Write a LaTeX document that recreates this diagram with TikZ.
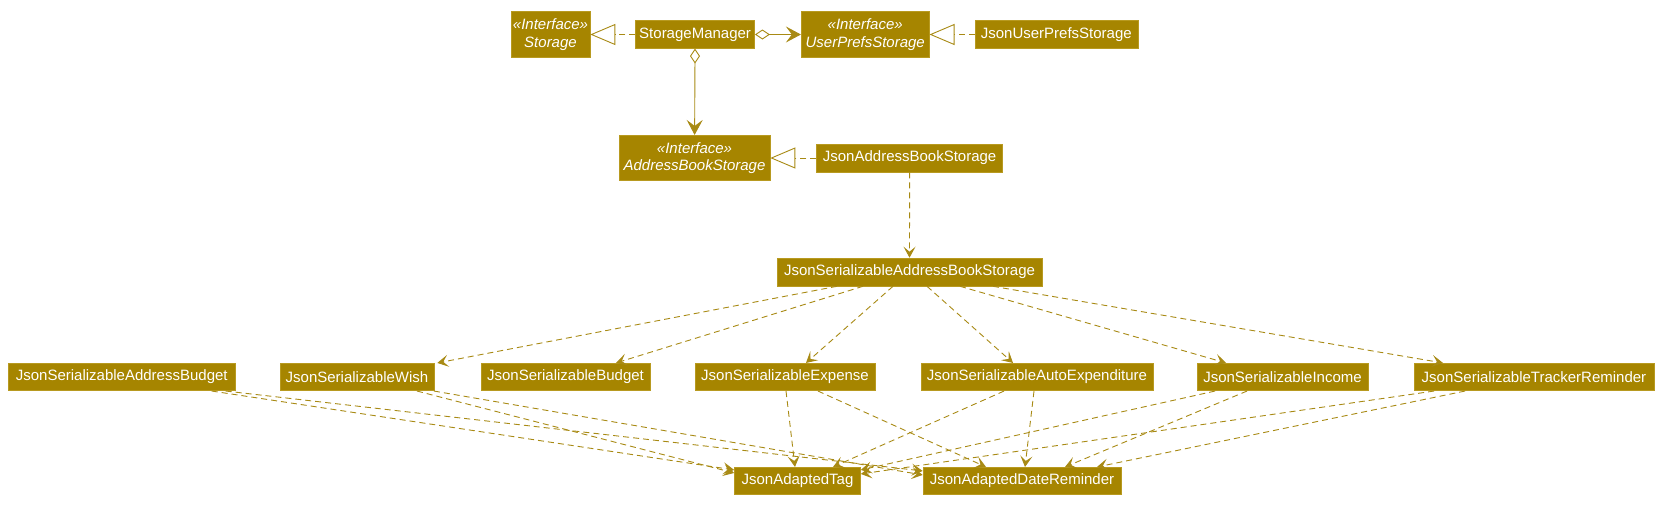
\documentclass[tikz,border=0pt]{standalone}
\usepackage{fontspec}
\setmainfont{Liberation Sans}
\usepackage{tikz}
\usetikzlibrary{arrows.meta, positioning, calc}
\definecolor{UmlGold}{HTML}{A68500}
\definecolor{UmlEdge}{HTML}{B89A20}
\definecolor{UmlLine}{HTML}{A88A14}

\begin{document}
\begin{tikzpicture}[x=1pt, y=-1pt, >={Stealth[length=11pt, width=12pt, inset=5pt]}, font=\fontsize{15}{17.5}\selectfont]
    \tikzstyle{cls} = [rectangle, draw=UmlEdge, line width=0.6pt, fill=UmlGold, text=white, minimum height=27.5pt, inner sep=1.5pt, align=center]
    \tikzstyle{iface} = [cls, minimum height=45.5pt, font=\fontsize{15}{17.5}\selectfont\itshape]
    \tikzstyle{line} = [draw, ->, UmlLine, line width=0.9pt]
    \tikzstyle{dep} = [line, dash pattern=on 6pt off 4pt]
    \tikzstyle{impl} = [draw, UmlLine, line width=0.9pt, dash pattern=on 6pt off 4pt, -{Triangle[length=25pt, width=21pt, fill=white]}]
    \tikzstyle{agg} = [line, {Diamond[length=15pt, width=10pt, fill=white]}-{Stealth[length=15pt, width=16pt, inset=6pt]}]

    \useasboundingbox (0,0) rectangle (1666,509);

    % storage layer
    \node [iface, minimum width=79pt] (storage) at (550.5,34.5) {«Interface»\\Storage};
    \node [cls, minimum width=119pt, right=45pt of storage] (mgr) {StorageManager};
    \node [iface, minimum width=128pt, right=46pt of mgr] (prefs) {«Interface»\\UserPrefsStorage};
    \node [cls, minimum width=163pt, right=45pt of prefs] (jsonprefs) {JsonUserPrefsStorage};
    \node [iface, minimum width=151pt] (abook) at (694.5,158) {«Interface»\\AddressBookStorage};
    \node [cls, minimum width=186pt, minimum height=28pt, right=46pt of abook] (jsonabook) {JsonAddressBookStorage};
    \node [cls, minimum width=265pt, minimum height=28pt] (serabook) at (909.5,272) {JsonSerializableAddressBookStorage};

    % serializable classes
    \node [cls, minimum width=226.5pt] (sab) at (121.75,377) {JsonSerializableAddressBudget};
    \node [cls, minimum width=154pt] (wish) at (357,377) {JsonSerializableWish};
    \node [cls, minimum width=169pt] (budget) at (565.5,377) {JsonSerializableBudget};
    \node [cls, minimum width=180pt] (expense) at (785,377) {JsonSerializableExpense};
    \node [cls, minimum width=232pt] (autoexp) at (1037,377) {JsonSerializableAutoExpenditure};
    \node [cls, minimum width=171pt] (income) at (1282.5,377) {JsonSerializableIncome};
    \node [cls, minimum width=240pt] (tracker) at (1534,377) {JsonSerializableTrackerReminder};
    \node [cls, minimum width=126pt] (tag) at (797.5,481) {JsonAdaptedTag};
    \node [cls, minimum width=198pt] (date) at (1022,481) {JsonAdaptedDateReminder};

    \path [impl] (mgr) -- (storage);
    \path [agg] (mgr) -- (prefs);
    \path [impl] (jsonprefs) -- (prefs);
    \path [agg] (mgr) -- (abook);
    \path [impl] (jsonabook) -- (abook);
    \path [dep] (jsonabook) -- (serabook);

    \path [dep] ($(serabook.south)+(-72.5,0)$) -- ($(wish.north east)+(3,0)$);
    \path [dep] ($(serabook.south)+(-46.5,0)$) -- ($(budget.north)+(50.5,0)$);
    \path [dep] ($(serabook.south)+(-16.5,0)$) -- ($(expense.north)+(21,0)$);
    \path [dep] ($(serabook.south)+(17.5,0)$) -- ($(autoexp.north)+(-24,0)$);
    \path [dep] ($(serabook.south)+(50.5,0)$) -- ($(income.north)+(-56.5,0)$);
    \path [dep] ($(serabook.south)+(83.5,0)$) -- ($(tracker.north)+(-91,0)$);

    % adapted types
    \path [dep] ($(sab.south)+(90,0)$) -- ($(tag.north west)+(0,3)$);
    \path [dep] ($(sab.south)+(104,0)$) -- ($(date.north west)+(0,4)$);
    \path [dep] ($(wish.south)+(60,0)$) -- ($(tag.north west)+(0,6)$);
    \path [dep] ($(wish.south)+(77,0)$) -- ($(date.north west)+(0,8)$);
    \path [dep] ($(expense.south)+(1,0)$) -- ($(tag.north)+(-2.5,0)$);
    \path [dep] ($(expense.south)+(33,0)$) -- ($(date.north)+(-36,0)$);
    \path [dep] ($(autoexp.south)+(-33,0)$) -- ($(tag.north)+(35.5,0)$);
    \path [dep] ($(autoexp.south)+(-3,0)$) -- ($(date.north)+(3,0)$);
    \path [dep] ($(income.south)+(-67.5,0)$) -- ($(tag.north east)+(0,3)$);
    \path [dep] ($(income.south)+(-35.5,0)$) -- ($(date.north)+(43,0)$);
    \path [dep] ($(tracker.south)+(-100,0)$) -- ($(tag.north east)+(0,7)$);
    \path [dep] ($(tracker.south)+(-69,0)$) -- ($(date.north)+(75,0)$);
\end{tikzpicture}
\end{document}
